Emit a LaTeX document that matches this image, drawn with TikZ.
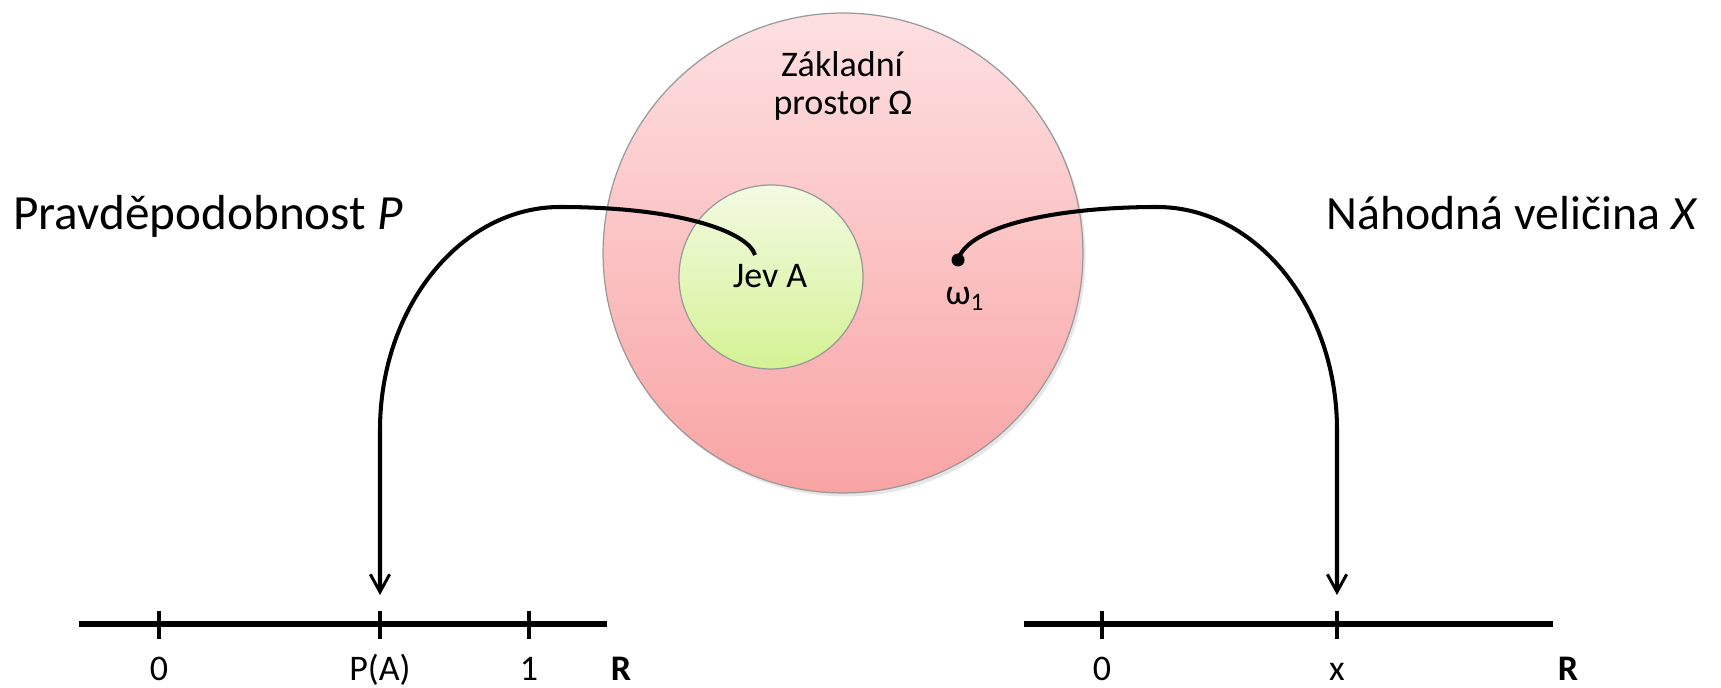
\documentclass[tikz,border=0pt]{standalone}
\usepackage{fontspec}
\setmainfont{Carlito}
\usetikzlibrary{arrows.meta,shadows}

\definecolor{omegatop}{RGB}{253,224,226}
\definecolor{omegabot}{RGB}{249,164,164}
\definecolor{jevtopc}{RGB}{243,250,226}
\definecolor{jevbotc}{RGB}{212,242,148}

\begin{document}
\begin{tikzpicture}[x=0.02cm, y=-0.02cm,
    every node/.style={inner sep=0pt, font=\fontsize{20.5}{22}\selectfont},
    title/.style={font=\fontsize{28}{30}\selectfont},
    set/.style={circle, draw=black!40, line width=0.7pt},
    axis/.style={line width=3.3pt},
    tick/.style={line width=2.1pt},
    map/.style={line width=2.3pt, -{Straight Barb[length=10pt,width=11pt,line width=1.7pt]}}]
    \useasboundingbox (0,0) rectangle (1721,688);
    \node[set, minimum size=9.6cm, top color=omegatop, bottom color=omegabot,
        drop shadow={opacity=0.2, shadow xshift=1.5pt, shadow yshift=-2pt}] (omega) at (843,253) {};
    \node[set, minimum size=3.68cm, top color=jevtopc, bottom color=jevbotc] (jevA) at (771,277) {};
    \node[anchor=base] (zakladni) at (842,77) {Základní};
    \node[anchor=base] (prostor) at (843,115) {prostor Ω};
    \node[anchor=base] (jev) at (770,288) {Jev A};
    \node[circle, fill, minimum size=0.26cm] (w1) at (958,260) {};
    \node[anchor=base] (w1label) at (965,305) {ω\textsubscript{1}};
    \node[title, anchor=base west] (prob) at (13,230) {Pravděpodobnost \textit{P}};
    \node[title, anchor=base east, font=\fontsize{27.2}{30}\selectfont] (rv) at (1698,230) {Náhodná veličina \textit{X}};
    % number lines
    \draw[axis] (79,624) -- (607,624);
    \draw[axis] (1024,624) -- (1553,624);
    \foreach \x/\t in {159/0, 380/P(A), 529/1, 1102/0, 1337/x} {
        \draw[tick] (\x,611) -- (\x,639);
        \node[anchor=base] (lab\x) at (\x,681) {\t};
    }
    \node[anchor=base] (rl) at (621,681) {\textbf{R}};
    \node[anchor=base] (rr) at (1568,681) {\textbf{R}};
    % mappings
    \coordinate (jevtop) at (755,255);
    \coordinate (patip) at (380,595);
    \coordinate (xtip) at (1337,595);
    \draw[map] (jevtop) .. controls (748,232) and (680,207) .. (560,207)
        .. controls (461,207) and (380,307) .. (380,430) -- (patip);
    \draw[map] (w1.center) .. controls (968,225) and (1060,207) .. (1157,207)
        .. controls (1256,207) and (1337,307) .. (1337,430) -- (xtip);
\end{tikzpicture}
\end{document}
